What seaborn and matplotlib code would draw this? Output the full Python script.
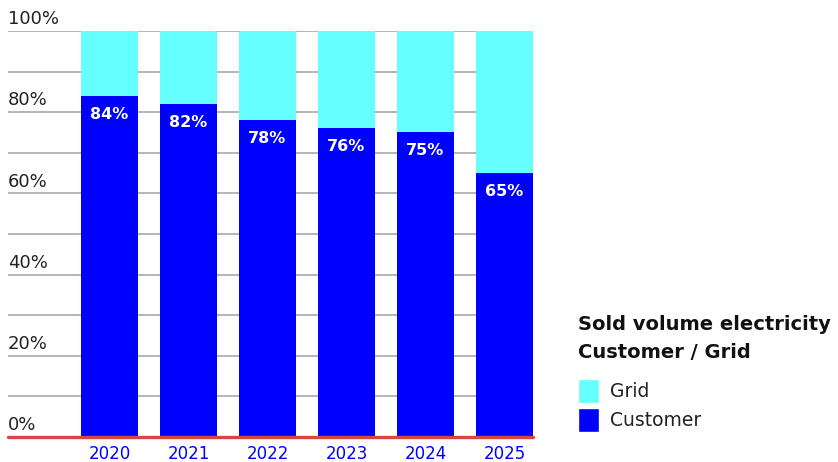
import matplotlib
matplotlib.use("Agg")
import matplotlib.pyplot as plt
import seaborn as sns
import pandas as pd
from matplotlib.patches import Patch

years = ["2020", "2021", "2022", "2023", "2024", "2025"]
customer = [84, 82, 78, 76, 75, 65]
grid = [16, 18, 22, 24, 25, 35]
y_ticks = [0, 20, 40, 60, 80, 100]

CYAN = "#66ffff"
BLUE = "#0000ff"

sns.set_theme(style="white")
plt.rcParams["font.family"] = ["DejaVu Sans"]

df = pd.DataFrame({"year": years, "customer": customer, "grid": grid})
df["total"] = df["customer"] + df["grid"]

fig = plt.figure(figsize=(8.38, 4.62), dpi=100)
ax = fig.add_axes([8 / 838, 25 / 462, 525 / 838, 406 / 462])

sns.barplot(data=df, x="year", y="total", color=CYAN, width=0.72,
            saturation=1, ax=ax, zorder=3, linewidth=0, edgecolor="none")
sns.barplot(data=df, x="year", y="customer", color=BLUE, width=0.72,
            saturation=1, ax=ax, zorder=3, linewidth=0, edgecolor="none")

ax.set_xlim(-1.285, 5.361)
ax.set_ylim(0, 100)

# horizontal gridlines every 10 %
for v in range(10, 101, 10):
    ax.axhline(v, color="#a0a0a0", lw=1.1, zorder=1)
ax.axhline(0, color="#d94545", lw=2.4, zorder=4, clip_on=False)

# y labels sit above their gridline at the left edge
for v in y_ticks:
    ax.annotate(f"{v}%", xy=(0, v), xycoords=("axes fraction", "data"),
                xytext=(0, 2), textcoords="offset points",
                ha="left", va="bottom", fontsize=13, color="#222222")

# value labels inside the blue bars
for i, c in enumerate(customer):
    ax.annotate(f"{c}%", xy=(i, c), xytext=(0, -13), textcoords="offset points",
                ha="center", va="center", fontsize=11.5, fontweight="bold",
                color="white", zorder=5)

ax.set_yticks([])
ax.set_xlabel("")
ax.set_ylabel("")
ax.tick_params(axis="x", length=0, pad=6, labelsize=12, labelcolor=BLUE)
for s in ax.spines.values():
    s.set_visible(False)

fig.text(578 / 838, 1 - 325 / 462, "Sold volume electricity", fontsize=14,
         fontweight="bold", color="#111111", ha="left", va="center")
fig.text(578 / 838, 1 - 352 / 462, "Customer / Grid", fontsize=14,
         fontweight="bold", color="#111111", ha="left", va="center")

handles = [Patch(facecolor=CYAN, label="Grid"), Patch(facecolor=BLUE, label="Customer")]
fig.legend(handles=handles, loc="upper left", bbox_to_anchor=(561 / 838, 1 - 362 / 462),
           frameon=False, fontsize=13.5, handlelength=1.15, handleheight=1.6,
           handletextpad=0.55, labelspacing=0.28, labelcolor="#222222")

fig.savefig("out.png", dpi=100)
